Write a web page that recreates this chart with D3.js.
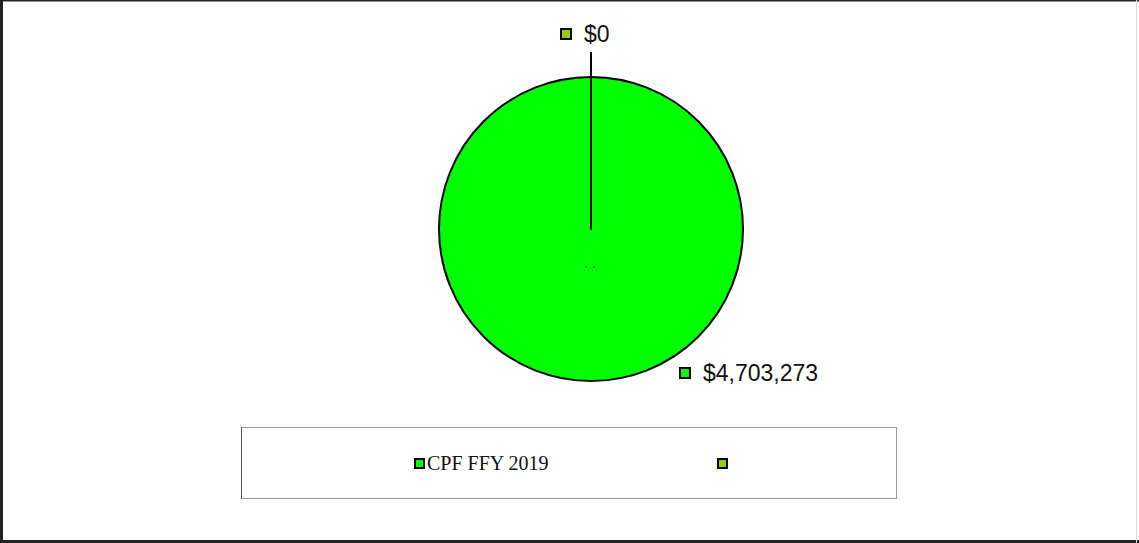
<!DOCTYPE html>
<html><head><meta charset="utf-8">
<script src="https://cdn.jsdelivr.net/npm/d3@7"></script>
<style>html,body{margin:0;padding:0;background:#fff;}svg{display:block;}</style>
</head><body>
<svg id="c" width="1139" height="543"></svg>
<script>
const categories = ["CPF FFY 2019", ""];
const values = [4703273, 0];
const valueLabels = ["$4,703,273", "$0"];
const colors = ["#00ff00", "#99cc00"];

const svg = d3.select("#c");
// outer frame
svg.append("line").attr("x1",1.5).attr("y1",0).attr("x2",1.5).attr("y2",543).attr("stroke","#222").attr("stroke-width",3);
svg.append("line").attr("x1",0).attr("y1",0.5).attr("x2",1139).attr("y2",0.5).attr("stroke","#222").attr("stroke-width",2);
svg.append("line").attr("x1",0).attr("y1",541.5).attr("x2",1139).attr("y2",541.5).attr("stroke","#222").attr("stroke-width",3);
svg.append("line").attr("x1",1136.5).attr("y1",0).attr("x2",1136.5).attr("y2",543).attr("stroke","#ddd").attr("stroke-width",1);

const cx = 591, cy = 229, r = 152;
const g = svg.append("g").attr("transform", `translate(${cx},${cy})`);
const pie = d3.pie().sort(null).value(d => d)(values);
const arc = d3.arc().innerRadius(0).outerRadius(r);

g.selectAll("path.s").data(pie).enter().append("path")
  .attr("class","s").attr("d", arc)
  .attr("fill", (d,i) => colors[i]).attr("stroke", "#000").attr("stroke-width", 2);

// leader line for zero slice
const zero = pie[1];
const a0 = zero.startAngle;
const p = (ang, rad) => [Math.sin(ang)*rad, -Math.cos(ang)*rad];
const lp0 = p(a0, 0), lp1 = p(a0, r + 25);
g.append("line").attr("x1", lp0[0]).attr("y1", lp0[1]+1).attr("x2", lp1[0]).attr("y2", lp1[1])
  .attr("stroke","#000").attr("stroke-width",2);

// labels
function label(i, x, y) {
  g.append("rect").attr("x", x).attr("y", y-5).attr("width", 10).attr("height", 10)
    .attr("fill", colors[i]).attr("stroke","#000").attr("stroke-width",2);
  g.append("text").attr("x", x+23).attr("y", y+8).text(valueLabels[i])
    .attr("font-family","Liberation Sans, Arial, sans-serif").attr("font-size",23).attr("fill","#111");
}
label(1, -30, -195);
label(0, 89, 144);

// small inner marks
g.append("text").attr("x",-7).attr("y",47).text("` `").attr("font-size",13).attr("font-family","Liberation Sans").attr("fill","#222");

// legend
svg.append("rect").attr("x",241.5).attr("y",427.5).attr("width",655).attr("height",71)
  .attr("fill","#fff").attr("stroke","#999").attr("stroke-width",1);
svg.append("line").attr("x1",241.5).attr("y1",427).attr("x2",241.5).attr("y2",499).attr("stroke","#555");
const legX = [414, 717];
categories.forEach((c,i) => {
  svg.append("rect").attr("x", legX[i]+1).attr("y", 459).attr("width", 9).attr("height", 9)
    .attr("fill", colors[i]).attr("stroke","#000").attr("stroke-width",2);
  if (c) svg.append("text").attr("x", legX[i]+13).attr("y", 470).text(c)
    .attr("font-family","Liberation Serif, Times New Roman, serif").attr("font-size",20).attr("fill","#111");
});
</script>
</body></html>
